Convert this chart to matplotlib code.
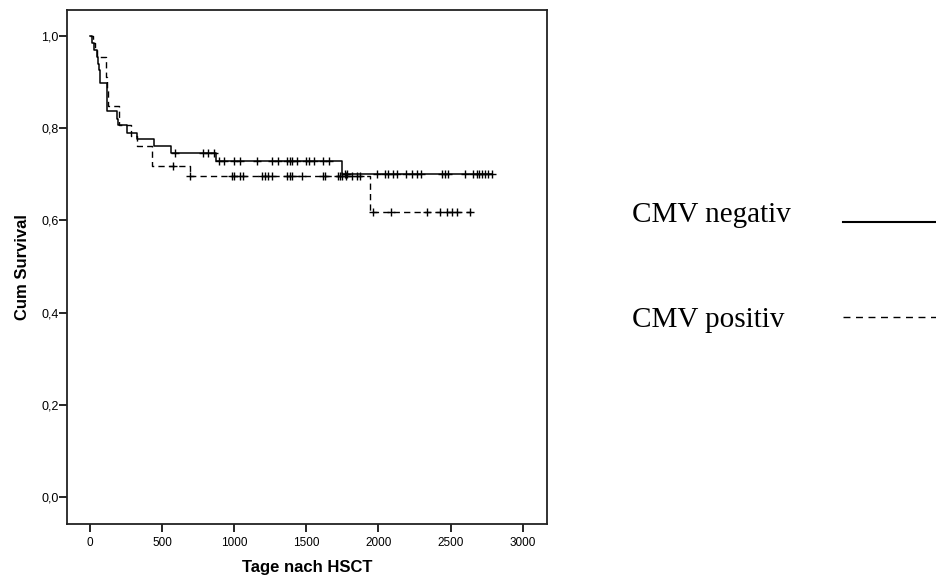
import numpy as np
import matplotlib
matplotlib.use("Agg")
import matplotlib.pyplot as plt
from matplotlib.lines import Line2D

# ---- data ----
neg_times = [0, 15, 30, 45, 55, 62, 70, 116, 185, 196, 254, 324, 446, 562, 872, 1750]
neg_surv = [1.0, 0.985, 0.97, 0.955, 0.94, 0.925, 0.897, 0.837, 0.82, 0.806, 0.79, 0.777, 0.761, 0.746, 0.729, 0.701]
neg_end = 2786
neg_censor = [589, 786, 821, 860, 897, 929, 999, 1040, 1156, 1260, 1306, 1369, 1387, 1403,
              1438, 1498, 1521, 1553, 1618, 1660, 1768, 1785, 1988, 2046, 2069, 2103, 2127,
              2191, 2231, 2265, 2293, 2438, 2462, 2485, 2600, 2658, 2681, 2700, 2716, 2739,
              2762, 2786]

pos_times = [0, 20, 35, 50, 110, 120, 127, 203, 284, 324, 427, 693, 1942]
pos_surv = [1.0, 0.985, 0.97, 0.955, 0.91, 0.88, 0.848, 0.806, 0.782, 0.761, 0.717, 0.695, 0.617]
pos_end = 2640
pos_censor = [578, 693, 982, 999, 1040, 1063, 1190, 1214, 1233, 1260, 1364, 1387, 1403, 1468,
              1618, 1630, 1722, 1734, 1750, 1775, 1815, 1850, 1872, 1965, 2085, 2340, 2427,
              2474, 2508, 2543, 2635]

x_ticks = [0, 500, 1000, 1500, 2000, 2500, 3000]
y_ticks = [0.0, 0.2, 0.4, 0.6, 0.8, 1.0]
y_ticklabels = ["0,0", "0,2", "0,4", "0,6", "0,8", "1,0"]
labels = ["CMV negativ", "CMV positiv"]

# ---- figure ----
fig = plt.figure(figsize=(9.37, 5.79), dpi=100)
ax = fig.add_axes([0.0715, 0.095, 0.5123, 0.8877])

def km_curve(times, surv, end):
    t = list(times) + [end]
    s = list(surv) + [surv[-1]]
    return np.array(t), np.array(s)

def surv_at(times, surv, c):
    idx = np.searchsorted(np.array(times), np.array(c), side="right") - 1
    return np.array(surv)[idx]

t, s = km_curve(neg_times, neg_surv, neg_end)
ax.step(t, s, where="post", color="black", lw=1.1)
ax.plot(neg_censor, surv_at(neg_times, neg_surv, neg_censor), ls="none",
        marker="+", ms=6, mew=1.0, color="black")

t, s = km_curve(pos_times, pos_surv, pos_end)
ax.step(t, s, where="post", color="black", lw=1.0, dashes=(4.5, 3))
ax.plot(pos_censor, surv_at(pos_times, pos_surv, pos_censor), ls="none",
        marker="+", ms=6, mew=1.0, color="black")

ax.set_xlim(-160, 3169)
ax.set_ylim(-0.0586, 1.056)
ax.set_xticks(x_ticks)
ax.set_xticklabels([str(v) for v in x_ticks], fontsize=8.5, family="Liberation Sans")
ax.set_yticks(y_ticks)
ax.set_yticklabels(y_ticklabels, fontsize=9, family="Liberation Sans")
ax.tick_params(axis="x", length=6, width=1.2, pad=3.5, color="black")
ax.tick_params(axis="y", length=5.5, width=1.2, pad=0.5, color="black")
for sp in ax.spines.values():
    sp.set_linewidth(1.3)
    sp.set_color("#222222")

ax.set_xlabel("Tage nach HSCT", fontsize=12, fontweight="bold", family="Liberation Sans", labelpad=8)
ax.set_ylabel("Cum Survival", fontsize=12, fontweight="bold", family="Liberation Sans", labelpad=8)

# ---- legend (figure annotation) ----
fig.text(0.6745, 1 - 222 / 579, labels[0], fontsize=21, family="Liberation Serif",
         va="baseline", ha="left")
fig.text(0.6745, 1 - 327 / 579, labels[1], fontsize=21, family="Liberation Serif",
         va="baseline", ha="left")
fig.add_artist(Line2D([843 / 937, 1.0], [1 - 221.7 / 579] * 2, transform=fig.transFigure,
                      color="black", lw=1.5))
fig.add_artist(Line2D([843 / 937, 1.0], [1 - 316.7 / 579] * 2, transform=fig.transFigure,
                      color="black", lw=1.0, dashes=(5, 4)))

fig.savefig("out.png", dpi=100)
